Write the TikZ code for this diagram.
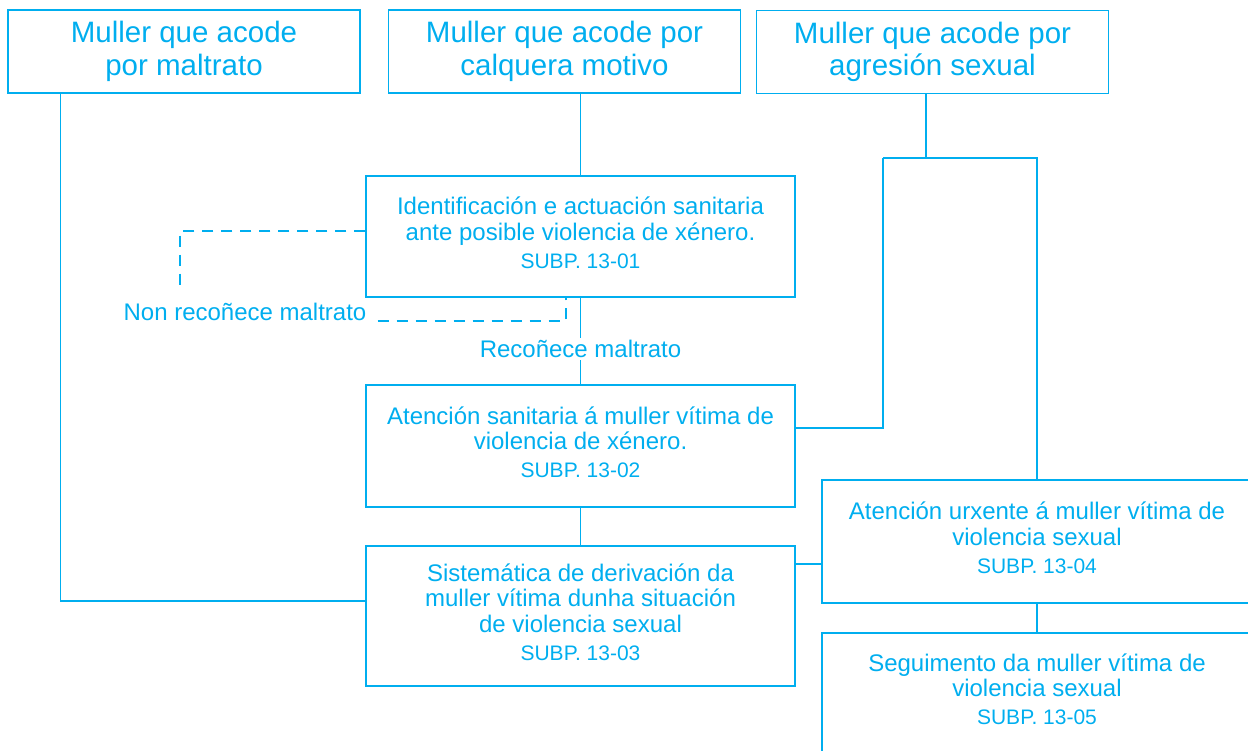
\documentclass[tikz,border=0pt]{standalone}
\usepackage{fontspec}
\setmainfont{Liberation Sans}
\definecolor{azul}{RGB}{0,174,239}
\newcommand{\letragrande}{\fontsize{29.5}{32.5}\selectfont}
\newcommand{\letramedia}{\fontsize{24}{25.5}\selectfont}
\newcommand{\codsubp}[1]{\\[2.5pt]{\fontsize{21}{24}\selectfont #1\rule[-8pt]{0pt}{8pt}}}
\begin{document}
\begin{tikzpicture}[x=1pt,y=-1pt,
  caixa/.style={draw=azul,line width=1.3pt,text=azul,align=center,inner sep=0pt,
    minimum width=429pt,minimum height=121pt,font=\letramedia},
  caixaalta/.style={caixa,minimum width=352pt,minimum height=83pt,font=\letragrande},
  etiqueta/.style={text=azul,inner sep=2pt,font=\letramedia},
  conector/.style={draw=azul,line width=1.3pt},
  trazos/.style={conector,dash pattern=on 11pt off 8pt}]
\useasboundingbox (0,0) rectangle (1248,751);
\node[caixaalta] (maltrato) at (184,51.5) {Muller que acode\\por maltrato};
\node[caixaalta] (motivo) at (564.5,51.5) {Muller que acode por\\calquera motivo};
\node[caixaalta] (sexual) at (932.5,52) {Muller que acode por\\agresión sexual};
\node[caixa] (ident) at (580.5,236.5) {Identificación e actuación sanitaria\\ante posible violencia de xénero.\codsubp{SUBP. 13-01}};
\node[caixa,minimum height=122pt] (atencion) at (580.5,446) {Atención sanitaria á muller vítima de\\violencia de xénero.\codsubp{SUBP. 13-02}};
\node[caixa,minimum height=140pt] (deriv) at (580.5,616) {Sistemática de derivación da\\muller vítima dunha situación\\de violencia sexual\codsubp{SUBP. 13-03}};
\node[caixa,minimum width=430pt,minimum height=123pt] (urxente) at (1037,541.5) {Atención urxente á muller vítima de\\violencia sexual\codsubp{SUBP. 13-04}};
\node[caixa,minimum width=430pt,minimum height=120pt] (segui) at (1037,693) {Seguimento da muller vítima de\\violencia sexual\codsubp{SUBP. 13-05}};
\node[etiqueta,anchor=base] (non) at (245,321) {Non recoñece maltrato};
%
\coordinate (volta) at (180,290);
\coordinate (garfo) at (926,158);
\coordinate (garfoesq) at (883,158);
\draw[conector] ([xshift=53pt]maltrato.south west) |- ([yshift=15pt]deriv.west);
\draw[conector] (motivo.south -| ident.north) -- (ident.north);
\draw[conector] (ident.south) -- node[pos=0.59,etiqueta,fill=white] (reco) {Recoñece maltrato} (atencion.north);
\draw[trazos] ([yshift=5.5pt]ident.west) -| (volta);
\draw[trazos] ([xshift=9pt]non.base east) -| ([xshift=-14.5pt]ident.south);
\draw[conector] ([xshift=-6.5pt]sexual.south) -- (garfo);
\draw[conector] (garfoesq) -- (garfoesq -| urxente.north) -- (urxente.north);
\draw[conector] (garfoesq) |- ([yshift=18pt]atencion.east);
\draw[conector] (atencion.south) -- (deriv.north);
\draw[conector] ([yshift=52pt]deriv.east) -- ([yshift=52pt]deriv.east -| urxente.west);
\draw[conector] (urxente.south) -- (segui.north);
\end{tikzpicture}
\end{document}
